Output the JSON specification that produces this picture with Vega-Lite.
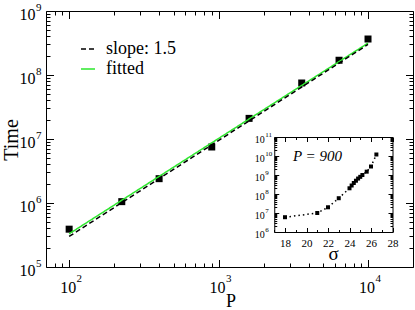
{
  "$schema": "https://vega.github.io/schema/vega-lite/v6.json",
  "width": 367,
  "height": 256,
  "autosize": {"type": "none"},
  "padding": {"left": 46, "top": 11, "right": 2, "bottom": 43},
  "config": {
    "view": {"stroke": "black", "strokeWidth": 1},
    "font": "Liberation Serif",
    "axis": {"grid": false, "domainColor": "black", "tickColor": "black", "labelColor": "black", "titleColor": "black", "labelFont": "Liberation Serif", "titleFont": "Liberation Serif", "titleFontWeight": "normal", "labelOverlap": false, "labelFlush": false, "labelBound": false, "tickWidth": 1, "domainWidth": 1}
  },
  "datasets": {
    "main": [
      {"P": 100, "Time": 390000},
      {"P": 225, "Time": 1050000},
      {"P": 400, "Time": 2400000},
      {"P": 900, "Time": 7500000},
      {"P": 1600, "Time": 21000000},
      {"P": 3600, "Time": 75000000},
      {"P": 6400, "Time": 170000000},
      {"P": 10000, "Time": 365000000}
    ],
    "lines": [
      {"series": "fitted", "P": 100, "Time": 330000},
      {"series": "fitted", "P": 10000, "Time": 315000000},
      {"series": "slope: 1.5", "P": 100, "Time": 300000},
      {"series": "slope: 1.5", "P": 10000, "Time": 300000000}
    ],
    "inset": [
      {"sigma": 18, "T": 6000000},
      {"sigma": 21, "T": 10000000},
      {"sigma": 22, "T": 20000000},
      {"sigma": 23, "T": 60000000},
      {"sigma": 24, "T": 200000000},
      {"sigma": 24.2, "T": 280000000},
      {"sigma": 24.4, "T": 380000000},
      {"sigma": 24.6, "T": 500000000},
      {"sigma": 24.8, "T": 650000000},
      {"sigma": 25, "T": 800000000},
      {"sigma": 25.2, "T": 1000000000},
      {"sigma": 25.6, "T": 1500000000},
      {"sigma": 26, "T": 2800000000},
      {"sigma": 26.5, "T": 12000000000}
    ]
  },
  "layer": [
    {
      "layer": [
        {
          "data": {"name": "main"},
          "mark": {"type": "square", "size": 49, "color": "black", "opacity": 1},
          "encoding": {
            "x": {"field": "P", "type": "quantitative", "scale": {"type": "log", "domain": [70, 20000], "nice": false},
              "axis": {"orient": "bottom", "values": [100, 1000, 10000], "labelExpr": "'10'", "labelFontSize": 16, "labelBaseline": "alphabetic", "labelPadding": 25, "labelOffset": -1.5, "ticks": false, "domain": false,
                "title": "P", "titleFontSize": 18, "titleX": 184.5, "titleY": 39.5, "titleBaseline": "alphabetic", "titleAlign": "center"}},
            "y": {"field": "Time", "type": "quantitative", "scale": {"type": "log", "domain": [100000, 1000000000], "nice": false},
              "axis": {"orient": "left", "values": [100000, 1000000, 10000000, 100000000, 1000000000], "labelExpr": "'10'", "labelFontSize": 16, "labelAlign": "right", "labelBaseline": "middle", "labelPadding": 11, "labelOffset": 3.5, "ticks": false, "domain": false,
                "title": "Time", "titleFontSize": 20, "titleAngle": -90, "titleX": -35, "titleY": 128.5, "titleBaseline": "middle", "titleAlign": "center"}}
          }
        },
        {
          "data": {"name": "lines"},
          "mark": {"type": "line", "strokeWidth": 1.5},
          "encoding": {
            "x": {"field": "P", "type": "quantitative",
              "axis": {"orient": "bottom", "values": [100, 1000, 10000], "labelExpr": "'' + round(log(datum.value)/LN10)", "labelFontSize": 11, "labelBaseline": "alphabetic", "labelPadding": 14, "labelOffset": 9.7, "ticks": false, "domain": false, "title": null}},
            "y": {"field": "Time", "type": "quantitative",
              "axis": {"orient": "left", "values": [100000, 1000000, 10000000, 100000000, 1000000000], "labelExpr": "'' + round(log(datum.value)/LN10)", "labelFontSize": 11, "labelAlign": "left", "labelBaseline": "middle", "labelPadding": 10.5, "labelOffset": -4, "ticks": false, "domain": false, "title": null}},
            "detail": {"field": "series"},
            "color": {"field": "series", "type": "nominal", "scale": {"domain": ["slope: 1.5", "fitted"], "range": ["black", "#2ee82e"]},
              "legend": {"title": null, "orient": "none", "legendX": 33, "legendY": 29, "symbolType": "stroke", "symbolSize": 196, "symbolStrokeWidth": 1.5, "labelFont": "Liberation Serif", "labelFontSize": 18, "labelOffset": 9, "rowPadding": 2, "padding": 0, "labelColor": "black", "labelLimit": 300}},
            "strokeDash": {"field": "series", "type": "nominal", "scale": {"domain": ["slope: 1.5", "fitted"], "range": [[5, 3], [1, 0]]},
              "legend": {"title": null, "orient": "none", "legendX": 33, "legendY": 29, "symbolType": "stroke", "symbolSize": 196, "symbolStrokeWidth": 1.5, "labelFont": "Liberation Serif", "labelFontSize": 18, "labelOffset": 9, "rowPadding": 2, "padding": 0, "labelColor": "black", "labelLimit": 300}}
          }
        },
        {
          "data": {"name": "main"},
          "mark": {"type": "point", "opacity": 0},
          "encoding": {
            "x": {"field": "P", "type": "quantitative", "axis": {"orient": "bottom", "values": [100, 1000, 10000], "tickSize": -7.5, "labels": false, "domain": false, "title": null}},
            "y": {"field": "Time", "type": "quantitative", "axis": {"orient": "left", "values": [100000, 1000000, 10000000, 100000000, 1000000000], "tickSize": -7.5, "labels": false, "domain": false, "title": null}}
          }
        },
        {
          "data": {"name": "main"},
          "mark": {"type": "point", "opacity": 0},
          "encoding": {
            "x": {"field": "P", "type": "quantitative", "axis": {"orient": "bottom", "values": [80, 90, 200, 300, 400, 500, 600, 700, 800, 900, 2000, 3000, 4000, 5000, 6000, 7000, 8000, 9000], "tickSize": -4, "labels": false, "domain": false, "title": null}},
            "y": {"field": "Time", "type": "quantitative", "axis": {"orient": "left", "values": [200000, 300000, 400000, 500000, 600000, 700000, 800000, 900000, 2000000, 3000000, 4000000, 5000000, 6000000, 7000000, 8000000, 9000000, 20000000, 30000000, 40000000, 50000000, 60000000, 70000000, 80000000, 90000000, 200000000, 300000000, 400000000, 500000000, 600000000, 700000000, 800000000, 900000000], "tickSize": -4, "labels": false, "domain": false, "title": null}}
          }
        },
        {
          "data": {"name": "main"},
          "mark": {"type": "point", "opacity": 0},
          "encoding": {
            "x": {"field": "P", "type": "quantitative", "axis": {"orient": "top", "values": [100, 1000, 10000], "tickSize": -7.5, "labels": false, "domain": false, "title": null}},
            "y": {"field": "Time", "type": "quantitative", "axis": {"orient": "right", "values": [100000, 1000000, 10000000, 100000000, 1000000000], "tickSize": -7.5, "labels": false, "domain": false, "title": null}}
          }
        },
        {
          "data": {"name": "main"},
          "mark": {"type": "point", "opacity": 0},
          "encoding": {
            "x": {"field": "P", "type": "quantitative", "axis": {"orient": "top", "values": [80, 90, 200, 300, 400, 500, 600, 700, 800, 900, 2000, 3000, 4000, 5000, 6000, 7000, 8000, 9000], "tickSize": -4, "labels": false, "domain": false, "title": null}},
            "y": {"field": "Time", "type": "quantitative", "axis": {"orient": "right", "values": [200000, 300000, 400000, 500000, 600000, 700000, 800000, 900000, 2000000, 3000000, 4000000, 5000000, 6000000, 7000000, 8000000, 9000000, 20000000, 30000000, 40000000, 50000000, 60000000, 70000000, 80000000, 90000000, 200000000, 300000000, 400000000, 500000000, 600000000, 700000000, 800000000, 900000000], "tickSize": -4, "labels": false, "domain": false, "title": null}}
          }
        }
      ]
    },
    {
      "layer": [
        {
          "data": {"name": "inset"},
          "mark": {"type": "line", "strokeWidth": 1.5, "color": "black", "strokeDash": [1.5, 3]},
          "encoding": {
            "x": {"field": "sigma", "type": "quantitative", "scale": {"type": "linear", "domain": [17, 28], "range": [228.25, 346.5], "nice": false, "zero": false},
              "axis": {"orient": "bottom", "offset": -35, "values": [18, 20, 22, 24, 26, 28], "labelFontSize": 11, "labelBaseline": "alphabetic", "labelPadding": 14.5, "ticks": false, "domain": true,
                "title": "σ", "titleFontSize": 19, "titleX": 287, "titleY": 27, "titleBaseline": "alphabetic", "titleAlign": "center"}},
            "y": {"field": "T", "type": "quantitative", "scale": {"type": "log", "domain": [1000000, 100000000000], "range": [221, 126], "nice": false},
              "axis": {"orient": "left", "offset": -228.25, "values": [1000000, 10000000, 100000000, 1000000000, 10000000000, 100000000000], "labelExpr": "'10'", "labelFontSize": 10, "labelAlign": "right", "labelBaseline": "middle", "labelPadding": 10, "labelOffset": 2, "ticks": false, "domain": true, "title": null}}
          }
        },
        {
          "data": {"name": "inset"},
          "mark": {"type": "square", "size": 16, "color": "black", "opacity": 1},
          "encoding": {
            "x": {"field": "sigma", "type": "quantitative",
              "axis": {"orient": "bottom", "offset": -35, "values": [18, 20, 22, 24, 26, 28], "tickSize": -4.5, "labels": false, "domain": false, "title": null}},
            "y": {"field": "T", "type": "quantitative",
              "axis": {"orient": "left", "offset": -228.25, "values": [1000000, 10000000, 100000000, 1000000000, 10000000000, 100000000000], "labelExpr": "'' + round(log(datum.value)/LN10)", "labelFontSize": 7, "labelAlign": "left", "labelBaseline": "middle", "labelPadding": 9.5, "labelOffset": -3, "ticks": false, "domain": false, "title": null}}
          }
        },
        {
          "data": {"name": "inset"},
          "mark": {"type": "point", "opacity": 0},
          "encoding": {
            "x": {"field": "sigma", "type": "quantitative",
              "axis": {"orient": "bottom", "offset": -35, "values": [17, 19, 21, 23, 25, 27], "tickSize": -2.5, "labels": false, "domain": false, "title": null}},
            "y": {"field": "T", "type": "quantitative",
              "axis": {"orient": "left", "offset": -228.25, "values": [1000000, 10000000, 100000000, 1000000000, 10000000000, 100000000000], "tickSize": -4.5, "labels": false, "domain": false, "title": null}}
          }
        },
        {
          "data": {"name": "inset"},
          "mark": {"type": "point", "opacity": 0},
          "encoding": {
            "x": {"field": "sigma", "type": "quantitative",
              "axis": {"orient": "top", "offset": -126, "values": [18, 20, 22, 24, 26, 28], "tickSize": -4.5, "labels": false, "domain": true, "title": null}},
            "y": {"field": "T", "type": "quantitative",
              "axis": {"orient": "left", "offset": -228.25, "values": [2000000, 3000000, 4000000, 5000000, 6000000, 7000000, 8000000, 9000000, 20000000, 30000000, 40000000, 50000000, 60000000, 70000000, 80000000, 90000000, 200000000, 300000000, 400000000, 500000000, 600000000, 700000000, 800000000, 900000000, 2000000000, 3000000000, 4000000000, 5000000000, 6000000000, 7000000000, 8000000000, 9000000000, 20000000000, 30000000000, 40000000000, 50000000000, 60000000000, 70000000000, 80000000000, 90000000000], "tickSize": -2.5, "labels": false, "domain": false, "title": null}}
          }
        },
        {
          "data": {"name": "inset"},
          "mark": {"type": "point", "opacity": 0},
          "encoding": {
            "x": {"field": "sigma", "type": "quantitative",
              "axis": {"orient": "top", "offset": -126, "values": [17, 19, 21, 23, 25, 27], "tickSize": -2.5, "labels": false, "domain": false, "title": null}},
            "y": {"field": "T", "type": "quantitative",
              "axis": {"orient": "right", "offset": -20.5, "values": [1000000, 10000000, 100000000, 1000000000, 10000000000, 100000000000], "tickSize": -4.5, "labels": false, "domain": true, "title": null}}
          }
        },
        {
          "data": {"name": "inset"},
          "mark": {"type": "point", "opacity": 0},
          "encoding": {
            "x": {"field": "sigma", "type": "quantitative", "axis": null},
            "y": {"field": "T", "type": "quantitative",
              "axis": {"orient": "right", "offset": -20.5, "values": [2000000, 3000000, 4000000, 5000000, 6000000, 7000000, 8000000, 9000000, 20000000, 30000000, 40000000, 50000000, 60000000, 70000000, 80000000, 90000000, 200000000, 300000000, 400000000, 500000000, 600000000, 700000000, 800000000, 900000000, 2000000000, 3000000000, 4000000000, 5000000000, 6000000000, 7000000000, 8000000000, 9000000000, 20000000000, 30000000000, 40000000000, 50000000000, 60000000000, 70000000000, 80000000000, 90000000000], "tickSize": -2.5, "labels": false, "domain": false, "title": null}}
          }
        },
        {
          "data": {"values": [{"label": "P = 900"}]},
          "mark": {"type": "text", "font": "Liberation Serif", "fontStyle": "italic", "fontSize": 15, "align": "left", "baseline": "alphabetic", "color": "black"},
          "encoding": {
            "x": {"datum": 18.74, "type": "quantitative", "axis": null},
            "y": {"datum": 5500000000, "type": "quantitative", "axis": null},
            "text": {"field": "label"}
          }
        }
      ]
    }
  ],
  "resolve": {"scale": {"x": "independent", "y": "independent"}, "axis": {"x": "independent", "y": "independent"}}
}
